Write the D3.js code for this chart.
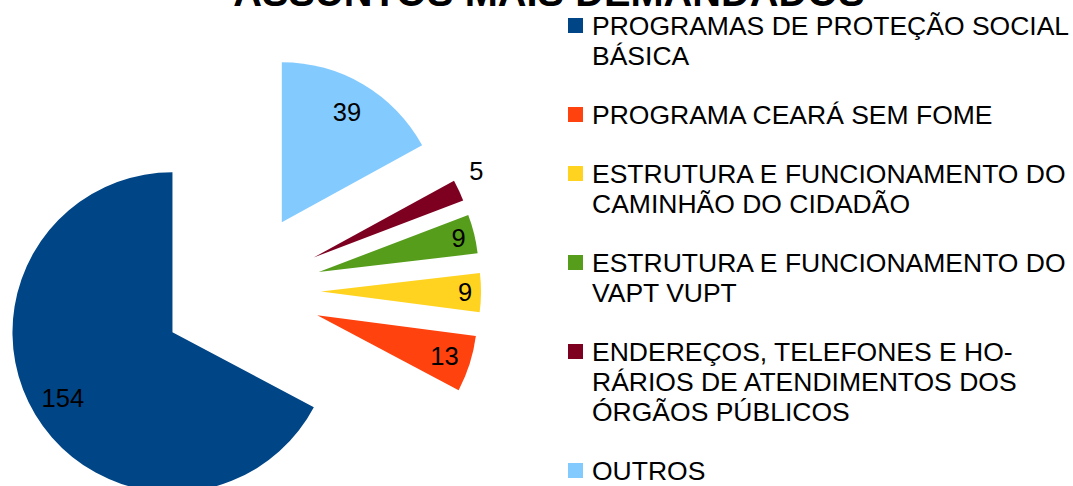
<!DOCTYPE html>
<html>
<head>
<meta charset="utf-8">
<script src="https://cdn.jsdelivr.net/npm/d3@7"></script>
<style>
  html, body { margin: 0; padding: 0; background: #fff; }
  svg { display: block; font-family: "Liberation Sans", Arial, sans-serif; }
</style>
</head>
<body>
<svg id="chart" width="1073" height="486"></svg>
<script>
// ---- data ----
const title = "ASSUNTOS MAIS DEMANDADOS";
const categories = [
  "PROGRAMAS DE PROTEÇÃO SOCIAL\nBÁSICA",
  "PROGRAMA CEARÁ SEM FOME",
  "ESTRUTURA E FUNCIONAMENTO DO\nCAMINHÃO DO CIDADÃO",
  "ESTRUTURA E FUNCIONAMENTO DO\nVAPT VUPT",
  "ENDEREÇOS, TELEFONES E HO-\nRÁRIOS DE ATENDIMENTOS DOS\nÓRGÃOS PÚBLICOS",
  "OUTROS"
];
const values = [154, 13, 9, 9, 5, 39];
const colors = ["#004586", "#ff420e", "#ffd320", "#579d1c", "#7e0021", "#83caff"];

// ---- layout ----
const svg = d3.select("#chart");
const cx = 241, cy = 291, R = 160, explode = 80;

const pie = d3.pie().sort(null).value(d => d.value)
  .startAngle(2 * Math.PI).endAngle(0);
const arc = d3.arc().innerRadius(0).outerRadius(R);

const data = values.map((v, i) => ({ value: v, name: categories[i], color: colors[i] }));
const arcs = pie(data);

const g = svg.append("g").attr("transform", `translate(${cx},${cy})`);

function mid(d) { return (d.startAngle + d.endAngle) / 2; }
function dir(a) { return [Math.sin(a), -Math.cos(a)]; }

const slices = g.selectAll("g.slice").data(arcs).enter().append("g")
  .attr("class", "slice")
  .attr("transform", d => {
    const [ux, uy] = dir(mid(d));
    return `translate(${ux * explode},${uy * explode})`;
  });

slices.append("path")
  .attr("d", arc)
  .attr("fill", d => d.data.color);

// value labels
slices.each(function(d) {
  const span = Math.abs(d.endAngle - d.startAngle) * 180 / Math.PI;
  const [ux, uy] = dir(mid(d));
  const sel = d3.select(this).append("text")
    .attr("text-anchor", "middle")
    .attr("font-size", "25.5px")
    .attr("fill", "#000")
    .text(d.data.value);
  if (span < 10) {
    const f = 1.12;
    sel.attr("x", ux * R * f).attr("y", uy * R * f - 2);
  } else {
    const f = span > 60 ? 0.8 : span > 18 ? 0.835 : 0.9;
    sel.attr("x", ux * R * f).attr("y", uy * R * f).attr("dy", "0.35em");
  }
});

// title (partially off the top, as in the reference)
svg.append("text")
  .attr("x", 549).attr("y", 6)
  .attr("text-anchor", "middle")
  .attr("font-size", "39.8px")
  .attr("font-weight", "bold")
  .attr("fill", "#000")
  .text(title);

// legend
const legend = svg.append("g").attr("class", "legend");
const lineH = 30, gap = 29, fontL = 26.5;
let yBase = 35;
data.forEach(d => {
  const lines = d.name.split("\n");
  const item = legend.append("g");
  item.append("rect")
    .attr("x", 568).attr("y", yBase - 17)
    .attr("width", 15).attr("height", 15)
    .attr("fill", d.color);
  lines.forEach((ln, k) => {
    item.append("text")
      .attr("x", 592).attr("y", yBase + k * lineH)
      .attr("font-size", fontL + "px")
      .attr("fill", "#000")
      .text(ln);
  });
  yBase += lines.length * lineH + gap;
});
</script>
</body>
</html>
